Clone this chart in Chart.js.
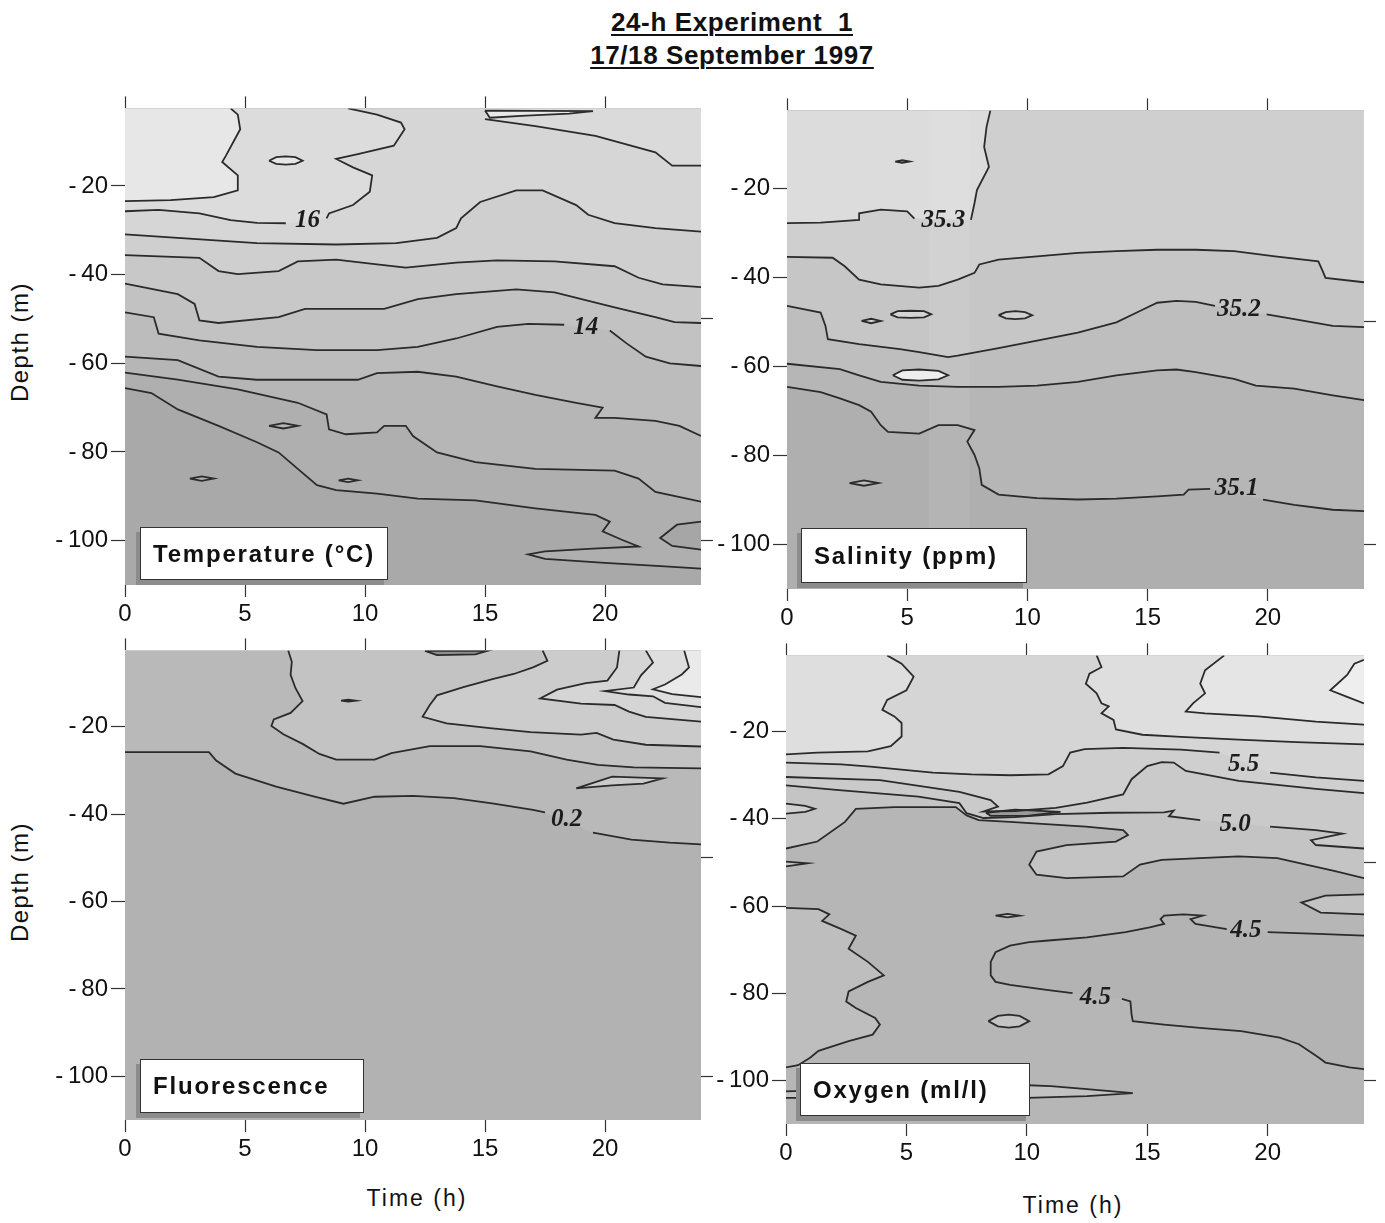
<!DOCTYPE html>
<html>
<head>
<meta charset="utf-8">
<script src="https://cdn.jsdelivr.net/npm/chart.js@4.4.0/dist/chart.umd.min.js"></script>
<style>
  body { margin: 0; background: #fff; width: 1385px; height: 1223px; position: relative; overflow: hidden;
         font-family: "Liberation Sans", Arial, sans-serif; color: #111; }
  .panel { position: absolute; }
  #title { position: absolute; left: 532px; top: 6px; width: 400px; text-align: center; font-weight: bold;
           font-size: 26px; line-height: 33px; letter-spacing: 0.6px; }
  #title span { text-decoration: underline; text-underline-offset: 3px; text-decoration-thickness: 2px; }
  .ytitle { position: absolute; width: 200px; height: 30px; line-height: 30px; text-align: center;
            font-size: 24px; letter-spacing: 1.5px; transform: rotate(-90deg); }
  .xtitle { position: absolute; width: 200px; height: 30px; line-height: 30px; text-align: center;
            font-size: 23px; letter-spacing: 2px; }
  .box { position: absolute; box-sizing: border-box; background: #fff; border: 1px solid #333;
         font-weight: bold; font-size: 24px; letter-spacing: 1.8px; padding-left: 12px;
         box-shadow: -4px 5px 0 #8c8c8c; z-index: 5; }
</style>
</head>
<body>
<div id="title"><span>24-h Experiment&nbsp;&nbsp;1</span><br><span>17/18 September 1997</span></div>

<div class="panel" style="left:40px;top:91px"><canvas id="temp" width="676" height="534"></canvas></div>
<div class="panel" style="left:702px;top:93px"><canvas id="salt" width="677" height="536"></canvas></div>
<div class="panel" style="left:40px;top:633px"><canvas id="fluo" width="676" height="527"></canvas></div>
<div class="panel" style="left:701px;top:638px"><canvas id="oxy" width="678" height="526"></canvas></div>

<div class="box" style="left:140px;top:527px;width:248px;height:53px;line-height:51px">Temperature (°C)</div>
<div class="box" style="left:801px;top:528px;width:226px;height:55px;line-height:53px">Salinity (ppm)</div>
<div class="box" style="left:140px;top:1059px;width:224px;height:54px;line-height:52px">Fluorescence</div>
<div class="box" style="left:800px;top:1063px;width:230px;height:53px;line-height:51px">Oxygen (ml/l)</div>

<div class="ytitle" style="left:-80px;top:327px">Depth (m)</div>
<div class="ytitle" style="left:-80px;top:867px">Depth (m)</div>
<div class="xtitle" style="left:317px;top:1183px">Time (h)</div>
<div class="xtitle" style="left:973px;top:1190px">Time (h)</div>

<script>
// axes
const TIME_MIN = 0, TIME_MAX = 24;
const DEPTH_TOP = -2.5, DEPTH_BOTTOM = -110;
const timeTicks = [0, 5, 10, 15, 20];
const depthTicks = [-20, -40, -60, -80, -100];
const sideTicks = [-50, -100];

// ---- temperature contours [time h, depth m]; null = gap for a label ----
const tempB = [[4.4,-2.5],[4.7,-3.9],[4.8,-7.2],[4.2,-13.2],[4.05,-14.6],[4.7,-17.6],[4.7,-21.0],[3.7,-22.5],[1.9,-23.2],[0,-23.4]];
const temp16 = [[0,-25.7],[1.4,-25.4],[3.1,-26.2],[4.4,-27.7],[5.5,-28.3],[6.7,-28.4],null,[8.4,-27.3],[8.5,-26.2],[9.5,-24.3],[10.2,-21.3],[10.3,-17.6],[9.5,-15.8],[8.8,-13.9],[9.7,-12.8],[11.2,-10.9],[11.65,-7.2],[11.5,-5.7],[10.5,-3.9],[9.3,-2.5]];
const tempA = [[15.0,-4.9],[17.1,-6.5],[19.6,-8.7],[22.1,-12.4],[22.8,-15.4],[24,-15.4]];
const tempC = [[0,-30.9],[2.2,-31.7],[5.5,-32.9],[8.8,-33.2],[11.3,-32.9],[13.0,-31.7],[13.8,-29.5],[14.0,-27.3],[14.8,-23.6],[16.3,-21.0],[17.4,-21.0],[18.8,-24.3],[19.3,-26.5],[20.4,-28.4],[22.1,-29.5],[24,-30.3]];
const tempD = [[0,-35.6],[3.1,-36.2],[3.9,-39.2],[4.7,-39.9],[6.4,-39.2],[7.2,-37.0],[8.8,-36.6],[10.5,-37.7],[11.7,-38.4],[13.8,-37.3],[15.5,-36.8],[17.9,-37.0],[20.4,-38.1],[21.4,-40.7],[22.4,-42.2],[24,-42.8]];
const tempE = [[0,-42.0],[2.2,-44.4],[2.9,-46.6],[3.1,-50.3],[3.9,-50.9],[6.4,-49.6],[7.5,-47.7],[10.8,-47.7],[12.2,-45.5],[13.8,-44.4],[16.3,-43.3],[17.9,-44.0],[20.4,-47.4],[22.1,-49.6],[22.9,-50.7],[24,-50.9]];
const temp14 = [[0,-48.5],[1.2,-49.6],[1.4,-53.3],[3.1,-54.8],[5.5,-56.3],[8.0,-57.0],[10.5,-57.0],[12.2,-56.3],[13.8,-54.4],[15.5,-51.8],[16.8,-51.1],[18.3,-51.3],null,[20.2,-52.6],[20.9,-55.5],[21.7,-58.5],[22.7,-60.0],[24,-60.6]];
const tempG = [[0,-58.5],[2.2,-59.3],[3.9,-63.0],[5.5,-63.7],[9.7,-63.7],[10.5,-62.2],[12.2,-61.9],[13.8,-63.0],[15.5,-65.2],[17.1,-67.1],[18.8,-68.9],[19.9,-70.0],[19.6,-72.3],[20.4,-72.3],[22.1,-73.0],[23.1,-74.1],[24,-76.4]];
const tempH = [[0,-62.1],[2.2,-63.7],[4.7,-65.9],[7.2,-68.9],[8.4,-71.5],[8.5,-74.9],[9.2,-76.0],[10.5,-75.6],[10.8,-74.1],[11.7,-74.1],[12.0,-76.4],[13.0,-80.1],[14.6,-82.3],[17.1,-83.8],[20.4,-84.2],[21.4,-86.0],[22.1,-89.0],[24,-91.2]];
const tempI = [[0,-65.6],[1.1,-66.7],[2.2,-70.4],[3.9,-74.1],[5.5,-77.8],[6.4,-80.1],[7.2,-83.8],[8.0,-87.5],[8.8,-88.6],[10.5,-89.4],[12.2,-90.5],[14.6,-90.9],[17.1,-92.7],[19.6,-94.2],[20.2,-95.7],[19.9,-97.9],[20.7,-99.8],[21.4,-101.3],[19.5,-101.8],[17.5,-102.4],[16.8,-103.1],[17.5,-104.1],[20.0,-105.0],[22.5,-105.8],[24,-106.3]];
const tempK = [[24,-95.7],[23.0,-96.4],[22.3,-99.4],[22.8,-101.2],[24,-102.0]];
const tempSliver = [[15.0,-3.0],[19.5,-3.1],[18.5,-3.7],[16.5,-4.2],[15.2,-4.6],[15.0,-3.0]];
const tempEll1 = [[6.0,-14.3],[6.3,-13.5],[6.7,-13.3],[7.1,-13.5],[7.4,-14.3],[7.1,-15.0],[6.7,-15.2],[6.3,-15.0],[6.0,-14.3]];
const tempEll2 = [[6.0,-74.1],[6.6,-73.5],[7.2,-74.1],[6.6,-74.7],[6.0,-74.1]];
const tempEll3 = [[2.7,-86.0],[3.2,-85.5],[3.7,-86.0],[3.2,-86.5],[2.7,-86.0]];
const tempEll4 = [[8.9,-86.4],[9.3,-86.0],[9.7,-86.4],[9.3,-86.8],[8.9,-86.4]];
const tempLabels = [[7.6,-27.8,'16'],[19.2,-52.0,'14']];

// ---- salinity contours ----
const salt353 = [[0,-27.8],[1.4,-27.7],[3.0,-27.1],[3.0,-25.6],[3.9,-24.8],[5.0,-25.2],[5.3,-26.8],null,[7.65,-27.1],[7.8,-23.3],[7.9,-20.4],[8.4,-15.2],[8.2,-10.7],[8.3,-6.2],[8.46,-2.5]];
const saltB = [[0,-35.4],[1.9,-35.6],[2.4,-37.5],[3.0,-40.5],[3.9,-41.6],[5.5,-42.3],[6.3,-41.9],[7.1,-40.5],[7.8,-39.0],[8.0,-37.1],[8.8,-36.0],[10.4,-35.3],[12.1,-34.5],[13.7,-34.1],[15.4,-33.8],[17.0,-33.8],[18.6,-34.1],[20.3,-35.3],[22.1,-36.4],[22.25,-38.2],[22.4,-40.1],[24,-41.1]];
const salt352 = [[0,-46.4],[1.4,-47.9],[1.6,-50.9],[1.7,-53.9],[3.0,-55.0],[4.7,-56.1],[5.5,-56.8],[6.7,-57.9],[7.1,-57.6],[8.8,-55.9],[10.4,-54.2],[12.1,-52.4],[13.7,-50.1],[14.7,-47.5],[15.4,-45.7],[16.2,-45.3],[17.0,-45.5],[17.8,-46.4],null,[19.95,-48.3],[21.1,-49.4],[22.7,-50.9],[24,-51.2]];
const saltD = [[0,-59.4],[2.2,-60.6],[3.0,-62.0],[3.9,-63.5],[5.5,-64.3],[7.1,-64.6],[8.8,-64.6],[10.4,-64.3],[12.1,-63.5],[13.7,-62.0],[15.4,-60.9],[16.2,-60.7],[17.0,-61.3],[18.6,-62.8],[19.5,-64.3],[21.1,-65.0],[22.7,-66.5],[24,-67.6]];
const salt351 = [[0,-64.6],[1.4,-65.8],[2.2,-67.2],[3.0,-68.7],[3.5,-70.2],[3.9,-73.2],[4.2,-74.7],[5.5,-75.1],[6.3,-73.2],[7.1,-73.2],[7.8,-74.3],[7.5,-76.9],[7.8,-79.9],[8.0,-82.9],[8.1,-86.6],[8.8,-88.8],[10.4,-89.6],[12.1,-89.9],[13.7,-89.7],[15.4,-89.2],[16.5,-88.8],[16.7,-87.7],[17.6,-87.5],null,[19.8,-89.9],[21.1,-91.1],[22.7,-92.2],[24,-92.5]];
const saltStripe = [[5.9,-2.5],[7.6,-2.5],[7.6,-110],[5.9,-110],[5.9,-2.5]];
const saltEll1 = [[4.5,-14.0],[4.8,-13.7],[5.1,-14.0],[4.8,-14.3],[4.5,-14.0]];
const saltEll2 = [[4.3,-48.3],[4.6,-47.6],[5.15,-47.5],[5.7,-47.6],[6.0,-48.3],[5.7,-49.0],[5.15,-49.1],[4.6,-49.0],[4.3,-48.3]];
const saltEll3 = [[3.1,-49.8],[3.5,-49.3],[3.9,-49.8],[3.5,-50.3],[3.1,-49.8]];
const saltEll4 = [[8.8,-48.5],[9.1,-47.8],[9.5,-47.6],[9.9,-47.8],[10.2,-48.5],[9.9,-49.2],[9.5,-49.4],[9.1,-49.2],[8.8,-48.5]];
const saltEll5 = [[4.4,-62.0],[4.8,-60.9],[5.5,-60.7],[6.3,-61.0],[6.7,-62.0],[6.3,-62.9],[5.5,-63.2],[4.8,-63.0],[4.4,-62.0]];
const saltEll6 = [[2.6,-86.2],[3.2,-85.6],[3.8,-86.2],[3.2,-86.8],[2.6,-86.2]];
const saltLabels = [[6.5,-27.2,'35.3'],[18.8,-47.3,'35.2'],[18.7,-87.4,'35.1']];

// ---- fluorescence contours ----
const fluo02 = [[0,-25.8],[3.5,-25.8],[3.8,-27.7],[4.6,-30.7],[6.3,-33.7],[7.9,-36.0],[9.1,-37.6],[10.4,-36.0],[12.0,-35.8],[13.7,-36.3],[15.3,-37.5],[17.0,-39.0],[17.5,-39.6],null,[19.5,-44.2],[21.1,-45.8],[22.7,-46.5],[24,-46.9]];
const fluoL1 = [[6.8,-2.5],[6.95,-5.1],[6.9,-8.1],[7.1,-11.1],[7.4,-14.1],[6.9,-16.8],[6.2,-18.3],[6.1,-19.8],[6.6,-21.7],[7.4,-23.9],[8.1,-26.2],[8.8,-27.5],[10.4,-27.5],[11.1,-26.0],[12.7,-24.4],[14.8,-24.4],[16.9,-25.6],[18.4,-27.5],[19.7,-28.7],[21.2,-29.3],[24,-29.5]];
const fluoL2 = [[17.4,-2.5],[17.6,-4.9],[17.0,-6.4],[16.2,-7.9],[15.35,-9.0],[14.1,-10.9],[13.0,-12.8],[12.7,-15.0],[12.4,-17.7],[13.4,-19.2],[15.2,-20.3],[16.9,-21.2],[19.0,-21.8],[19.65,-21.4],[20.35,-22.9],[21.7,-24.1],[24,-24.5]];
const fluoL3 = [[20.6,-2.5],[20.5,-6.4],[20.1,-9.4],[19.2,-10.0],[18.0,-11.5],[17.3,-13.5],[19.0,-14.7],[20.4,-15.0],[21.0,-16.5],[21.7,-17.7],[24,-18.8]];
const fluoL4 = [[21.7,-2.5],[22.0,-5.3],[21.5,-8.2],[21.2,-11.0],[20.0,-11.8],[21.0,-12.6],[22.0,-13.0],[22.5,-14.5],[24,-15.5]];
const fluoL5 = [[23.3,-2.5],[23.5,-6.4],[23.2,-8.0],[22.5,-10.3],[22.0,-11.4],[22.8,-12.5],[24,-13.2]];
const fluoTongue = [[18.8,-34.1],[20.3,-31.4],[22.4,-31.8],[21.6,-33.0],[20.3,-33.4],[18.8,-34.1]];
const fluoSliver = [[12.5,-2.6],[15.1,-2.6],[14.6,-3.4],[13.0,-3.6],[12.5,-2.6]];
const fluoDot = [[9.0,-14.0],[9.3,-13.8],[9.6,-14.0],[9.3,-14.2],[9.0,-14.0]];
const fluoLabels = [[18.4,-41.3,'0.2']];

// ---- oxygen contours ----
const oxyO1 = [[4.2,-2.5],[4.8,-4.4],[5.3,-7.4],[5.0,-10.5],[4.2,-12.7],[4.0,-15.0],[4.5,-16.5],[4.8,-18.0],[4.8,-21.1],[4.35,-23.3],[3.4,-24.5],[1.3,-24.8],[0,-25.2]];
const oxyO2 = [[12.9,-2.5],[13.1,-5.2],[12.6,-6.7],[12.45,-9.0],[12.9,-11.2],[13.1,-13.5],[13.4,-14.2],[13.1,-15.8],[13.6,-17.3],[13.7,-19.5],[14.8,-20.7],[16.4,-21.2],[18.8,-21.8],[21.2,-22.4],[24,-22.9]];
const oxyO3 = [[18.2,-2.5],[17.4,-5.9],[17.2,-9.0],[17.4,-11.2],[16.9,-13.5],[16.6,-15.4],[17.4,-15.8],[19.6,-16.5],[22.0,-17.7],[24,-18.4]];
const oxyO4 = [[24,-3.5],[23.6,-4.4],[23.3,-7.0],[22.6,-10.5],[23.3,-12.0],[24,-13.5]];
const oxy55 = [[0,-27.1],[2.3,-27.5],[3.5,-28.0],[6.1,-29.4],[7.7,-29.8],[9.3,-30.0],[10.9,-29.8],[11.5,-27.9],[11.8,-24.8],[12.4,-24.0],[14.0,-23.7],[16.4,-24.1],[18.0,-24.8],null,[20.1,-29.4],[22.0,-30.5],[24,-31.3]];
const oxyO6 = [[0,-30.4],[3.9,-31.1],[7.2,-33.8],[8.5,-35.7],[8.8,-37.2],[8.2,-38.3],[9.5,-38.2],[11.2,-37.5],[12.5,-36.3],[14.0,-34.4],[14.35,-30.9],[15.0,-27.9],[15.6,-27.0],[16.1,-27.1],[16.6,-29.0],[18.8,-31.3],[22.0,-33.1],[24,-34.1]];
const oxy50 = [[0,-32.3],[2.2,-33.4],[5.5,-34.9],[7.2,-36.4],[7.5,-38.7],[8.2,-39.8],[9.5,-39.6],[11.2,-38.9],[13.5,-38.6],[15.7,-38.5],[16.1,-38.1],[15.9,-39.4],[17.2,-40.3],null,[20.1,-41.8],[22.0,-42.6],[23.1,-43.4],[21.8,-44.9],[22.0,-46.0],[24,-46.8]];
const oxyO8 = [[0,-46.8],[1.3,-45.2],[2.45,-40.7],[2.9,-37.7],[4.5,-37.3],[7.05,-37.3],[7.5,-39.2],[8.0,-40.3],[9.3,-40.7],[12.45,-41.8],[14.0,-42.6],[14.2,-43.7],[13.7,-45.2],[11.65,-46.0],[10.4,-47.5],[10.1,-50.5],[10.4,-52.8],[11.65,-53.6],[14.0,-53.2],[14.7,-50.5],[15.6,-49.4],[18.8,-48.6],[20.4,-49.0],[22.8,-52.0],[24,-53.6]];
const oxyP1 = [[0,-60.4],[1.35,-60.7],[1.8,-61.9],[1.5,-63.4],[2.3,-65.3],[2.9,-66.8],[2.6,-69.8],[3.4,-72.8],[4.06,-75.9],[3.4,-77.4],[2.6,-79.6],[2.5,-81.9],[2.9,-83.4],[3.7,-85.7],[3.9,-87.2],[3.6,-89.5],[2.6,-91.0],[1.35,-93.2],[1.0,-94.8],[0.5,-96.5],[0,-97.0]];
const oxy45 = [[24,-66.8],[22.1,-66.4],[20.0,-66.0],null,[18.3,-65.3],[17.0,-64.1],[16.8,-63.0],[17.3,-62.2],[16.5,-61.9],[15.7,-62.2],[15.55,-63.0],[15.7,-64.1],[15.1,-64.9],[14.1,-66.0],[12.5,-67.2],[10.9,-67.9],[10.1,-68.3],[9.3,-69.1],[8.7,-70.6],[8.5,-72.8],[8.5,-75.9],[8.7,-77.4],[9.3,-78.1],[10.9,-79.3],[11.9,-80.0],null,[13.95,-81.3],[14.3,-81.9],[14.35,-84.9],[14.4,-86.4],[15.7,-87.2],[17.3,-88.0],[18.9,-88.7],[20.5,-90.2],[21.3,-91.7],[22.1,-94.7],[22.4,-95.9],[23.4,-97.0],[24,-97.4]];
const oxyT1 = [[0,-36.5],[0.8,-37.0],[1.2,-37.7],[0.8,-38.4],[0,-38.8]];
const oxyT2 = [[0,-49.8],[0.9,-50.2],[0,-50.9]];
const oxyT3 = [[24,-57.3],[22.4,-57.6],[21.4,-59.2],[22.2,-61.5],[24,-61.9]];
const oxyBottom = [[0,-102.5],[9.5,-101.0],[11.0,-101.3],[12.5,-102.0],[14.4,-102.9],[12.5,-103.6],[10.0,-104.0],[0,-104.0]];
const oxyBlob = [[8.3,-38.6],[9.5,-37.9],[11.4,-38.4],[10.0,-39.3],[8.5,-39.3],[8.3,-38.6]];
const oxyEll1 = [[8.7,-62.2],[9.2,-61.8],[9.7,-62.2],[9.2,-62.6],[8.7,-62.2]];
const oxyEll2 = [[8.4,-86.4],[8.8,-85.2],[9.25,-84.9],[9.7,-85.2],[10.1,-86.4],[9.7,-87.6],[9.25,-87.9],[8.8,-87.6],[8.4,-86.4]];
const oxyLabels = [[19.0,-27.6,'5.5'],[18.65,-41.2,'5.0'],[19.1,-65.7,'4.5'],[12.85,-81.0,'4.5']];

// ---------------------------------------------------------------------------
const LINE_COLOR = '#2b2b2b';
const tickFont = { family: '"Liberation Sans", Arial, sans-serif', size: 24 };

function toXY(pts) {
  return pts.map(p => p ? { x: p[0], y: p[1] } : { x: 12, y: null });
}

// region on the shallow side of a contour: close it along the top of the plot
function region(pts, closed) {
  const p = pts.filter(Boolean);
  if (!closed) {
    p.push([p[p.length - 1][0], DEPTH_TOP], [p[0][0], DEPTH_TOP]);
  }
  return p;
}

function tickList(values) {
  return axis => { axis.ticks = values.map(v => ({ value: v })); };
}

function makeScales() {
  const grid = { drawOnChartArea: false, tickLength: 12, tickColor: '#333', tickWidth: 1.2 };
  return {
    x: {
      type: 'linear', position: 'bottom', min: TIME_MIN, max: TIME_MAX,
      afterBuildTicks: tickList(timeTicks),
      afterFit: a => { a.height = 40; },
      ticks: { font: tickFont, color: '#111', padding: 3, maxRotation: 0, autoSkip: false },
      grid: grid, border: { display: false }
    },
    xTop: {
      type: 'linear', position: 'top', min: TIME_MIN, max: TIME_MAX,
      afterBuildTicks: tickList(timeTicks),
      afterFit: a => { a.height = 12; },
      ticks: { display: false },
      grid: grid, border: { display: false }
    },
    y: {
      type: 'linear', position: 'left', min: DEPTH_BOTTOM, max: DEPTH_TOP,
      afterBuildTicks: tickList(depthTicks),
      afterFit: a => { a.width = 85; },
      ticks: { font: tickFont, color: '#111', padding: 3, callback: v => '-\u2009' + Math.abs(v) },
      grid: { drawOnChartArea: false, tickLength: 14, tickColor: '#333', tickWidth: 1.2 },
      border: { display: false }
    },
    yRight: {
      type: 'linear', position: 'right', min: DEPTH_BOTTOM, max: DEPTH_TOP,
      afterBuildTicks: tickList(sideTicks),
      afterFit: a => { a.width = 15; },
      ticks: { display: false },
      grid: grid, border: { display: false }
    }
  };
}

function plotBackground(color) {
  return {
    id: 'plotBackground',
    beforeDatasetsDraw(chart) {
      const { ctx, chartArea: a } = chart;
      ctx.save();
      ctx.fillStyle = color;
      ctx.fillRect(a.left, a.top, a.width, a.height);
      ctx.restore();
    }
  };
}

function contourLabels(items) {
  return {
    id: 'contourLabels',
    afterDatasetsDraw(chart) {
      const { ctx, scales } = chart;
      ctx.save();
      ctx.font = 'italic bold 25px "Liberation Serif", serif';
      ctx.fillStyle = '#1c1c1c';
      ctx.textAlign = 'center';
      ctx.textBaseline = 'middle';
      items.forEach(([t, d, text]) => {
        ctx.fillText(text, scales.x.getPixelForValue(t), scales.y.getPixelForValue(d));
      });
      ctx.restore();
    }
  };
}

// layers are listed from the deepest (drawn first) to the shallowest
function drawPanel(id, bg, layers, labels) {
  const datasets = [];
  layers.forEach((layer, i) => {
    datasets.push({
      data: toXY(region(layer.pts, layer.closed)),
      fill: 'shape', backgroundColor: layer.color,
      borderWidth: 0, pointRadius: 0, order: 1000 - i
    });
  });
  layers.forEach(layer => {
    if (layer.noLine) return;
    datasets.push({
      data: toXY(layer.pts), fill: false, borderColor: LINE_COLOR,
      borderWidth: 1.8, pointRadius: 0, order: 0
    });
  });

  new Chart(document.getElementById(id), {
    type: 'line',
    data: { datasets: datasets },
    options: {
      responsive: false, animation: false, events: [],
      layout: { padding: 0 },
      scales: makeScales(),
      plugins: { legend: { display: false }, tooltip: { enabled: false } }
    },
    plugins: [plotBackground(bg), contourLabels(labels)]
  });
}

drawPanel('temp', '#a9a9a9', [
  { pts: tempI, color: '#afafaf' },
  { pts: tempK, color: '#a6a6a6' },
  { pts: tempH, color: '#b6b6b6' },
  { pts: tempG, color: '#bcbcbc' },
  { pts: temp14, color: '#c2c2c2' },
  { pts: tempE, color: '#c8c8c8' },
  { pts: tempD, color: '#cfcfcf' },
  { pts: tempC, color: '#d6d6d6' },
  { pts: tempA, color: '#dadada' },
  { pts: temp16, color: '#dcdcdc' },
  { pts: tempB, color: '#e7e7e7' },
  { pts: tempSliver, color: '#e8e8e8', closed: true },
  { pts: tempEll1, color: '#e6e6e6', closed: true },
  { pts: tempEll2, color: '#b6b6b6', closed: true },
  { pts: tempEll3, color: '#afafaf', closed: true },
  { pts: tempEll4, color: '#b6b6b6', closed: true }
], tempLabels);

drawPanel('salt', '#afafaf', [
  { pts: salt351, color: '#b6b6b6' },
  { pts: saltD, color: '#bebebe' },
  { pts: salt352, color: '#c6c6c6' },
  { pts: saltB, color: '#cfcfcf' },
  { pts: salt353, color: '#dcdcdc' },
  { pts: saltStripe, color: 'rgba(255,255,255,0.07)', closed: true, noLine: true },
  { pts: saltEll1, color: '#d4d4d4', closed: true },
  { pts: saltEll2, color: '#d4d4d4', closed: true },
  { pts: saltEll3, color: '#d4d4d4', closed: true },
  { pts: saltEll4, color: '#d0d0d0', closed: true },
  { pts: saltEll5, color: '#eeeeee', closed: true },
  { pts: saltEll6, color: '#bcbcbc', closed: true }
], saltLabels);

drawPanel('fluo', '#b2b2b2', [
  { pts: fluo02, color: '#b9b9b9' },
  { pts: fluoL1, color: '#c3c3c3' },
  { pts: fluoTongue, color: '#cbcbcb', closed: true },
  { pts: fluoL2, color: '#cccccc' },
  { pts: fluoL3, color: '#d5d5d5' },
  { pts: fluoL4, color: '#dedede' },
  { pts: fluoL5, color: '#eaeaea' },
  { pts: fluoSliver, color: '#8e8e8e', closed: true },
  { pts: fluoDot, color: '#8e8e8e', closed: true }
], fluoLabels);

drawPanel('oxy', '#b6b6b6', [
  { pts: oxyP1, color: '#bebebe' },
  { pts: oxy45, color: '#b3b3b3' },
  { pts: oxyBottom, color: '#c2c2c2' },
  { pts: oxyT2, color: '#c2c2c2' },
  { pts: oxyT3, color: '#c3c3c3' },
  { pts: oxyO8, color: '#c4c4c4' },
  { pts: oxyT1, color: '#d0d0d0' },
  { pts: oxy50, color: '#cacaca' },
  { pts: oxyO6, color: '#cfcfcf' },
  { pts: oxy55, color: '#d5d5d5' },
  { pts: oxyO2, color: '#dedede' },
  { pts: oxyO1, color: '#dedede' },
  { pts: oxyO3, color: '#e5e5e5' },
  { pts: oxyO4, color: '#eeeeee' },
  { pts: oxyBlob, color: '#9a9a9a', closed: true },
  { pts: oxyEll1, color: '#c0c0c0', closed: true },
  { pts: oxyEll2, color: '#c4c4c4', closed: true }
], oxyLabels);
</script>
</body>
</html>
